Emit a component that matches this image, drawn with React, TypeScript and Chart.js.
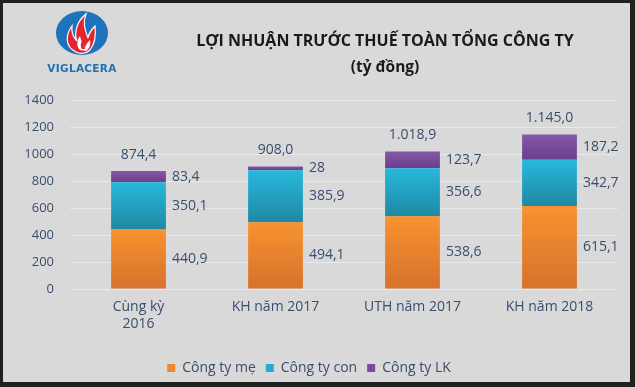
import React, { useEffect, useRef } from "react";
import { Chart, registerables } from "chart.js";

Chart.register(...registerables);

const categories: (string | string[])[] = [["Cùng kỳ", "2016"], "KH năm 2017", "UTH năm 2017", "KH năm 2018"];
const congTyMe = [440.9, 494.1, 538.6, 615.1];
const congTyCon = [350.1, 385.9, 356.6, 342.7];
const congTyLK = [83.4, 28, 123.7, 187.2];
const totals = [874.4, 908.0, 1018.9, 1145.0];
const seriesNames = ["Công ty mẹ", "Công ty con", "Công ty LK"];
const yTicks = [0, 200, 400, 600, 800, 1000, 1200, 1400];

const TEXT = "#3b4d6d";
const FONT = "'Open Sans', sans-serif";

const gradStops = [
  ["#f7932f", "#d7712d"],
  ["#27b9dd", "#1f88a2"],
  ["#8558a9", "#6a3e8d"],
];
const solid = ["#f08a2c", "#24aacd", "#7a4c9d"];

function fmt(v: number): string {
  const s = v.toFixed(1);
  const [i, d] = s.split(".");
  const ii = i.replace(/\B(?=(\d{3})+(?!\d))/g, ".");
  return ii + "," + d;
}

function fmtSeg(v: number): string {
  if (Number.isInteger(v)) return String(v);
  return fmt(v);
}

const labelPlugin = {
  id: "valueLabels",
  afterDatasetsDraw(chart: any) {
    const ctx = chart.ctx;
    ctx.save();
    ctx.fillStyle = TEXT;
    ctx.font = `14px ${FONT}`;
    ctx.textBaseline = "middle";
    chart.data.datasets.forEach((ds: any, di: number) => {
      const meta = chart.getDatasetMeta(di);
      meta.data.forEach((bar: any, i: number) => {
        const props = bar.getProps(["x", "y", "base", "width"], true);
        ctx.textAlign = "left";
        ctx.fillText(fmtSeg(ds.data[i]), props.x + props.width / 2 + 6, (props.y + props.base) / 2);
        if (di === chart.data.datasets.length - 1) {
          ctx.textAlign = "center";
          ctx.fillText(fmt(totals[i]), props.x, props.y - 16);
        }
      });
    });
    ctx.restore();
  },
};

function makeBg(di: number) {
  return (context: any) => {
    const chart = context.chart;
    const y = chart.scales && chart.scales.y;
    if (!y || context.type !== "data") return solid[di];
    const i = context.dataIndex;
    const all = [congTyMe, congTyCon, congTyLK];
    let base = 0;
    for (let k = 0; k < di; k++) base += all[k][i];
    const top = base + all[di][i];
    const y0 = y.getPixelForValue(top);
    const y1 = y.getPixelForValue(base);
    if (!isFinite(y0) || !isFinite(y1) || y0 === y1) return solid[di];
    const g = chart.ctx.createLinearGradient(0, y0, 0, y1);
    g.addColorStop(0, gradStops[di][0]);
    g.addColorStop(1, gradStops[di][1]);
    return g;
  };
}

function Logo() {
  return (
    <div style={{ position: "absolute", left: 40, top: 8, width: 84, height: 66 }}>
      <svg width="84" height="50" viewBox="0 0 84 50" style={{ position: "absolute", left: 0, top: 0 }}>
        <ellipse cx="42" cy="25" rx="26" ry="22" fill="#1f72bc" />
        <path d="M36 44 C24 38 26 26 32 18 C31 26 34 30 37 33 C34 26 36 14 46 6 C42 16 46 24 48 30 C49 24 52 21 55 18 C56 26 56 34 50 42 C46 46 40 46 36 44 Z" fill="#e3262d" stroke="#ffffff" strokeWidth="1.2" />
        <path d="M40 42 C36 38 37 32 40 28 C41 34 44 36 45 40 C46 36 48 34 50 32 C51 37 49 41 46 43 Z" fill="#ffffff" />
        <path d="M42 41 C40 38 41 35 42 33 C43 36 45 38 45 41 Z" fill="#e3262d" />
      </svg>
      <div style={{ position: "absolute", left: 0, top: 54, width: 84, textAlign: "center", fontFamily: "'DejaVu Sans', sans-serif", fontWeight: 700, fontSize: 10.5, color: "#1f6fb4", letterSpacing: 0.3, lineHeight: "12px" }}>
        VIGLACERA
      </div>
    </div>
  );
}

export default function App() {
  const canvasRef = useRef<HTMLCanvasElement | null>(null);

  useEffect(() => {
    if (!canvasRef.current) return;
    const chart = new Chart(canvasRef.current, {
      type: "bar",
      data: {
        labels: categories,
        datasets: [
          { label: seriesNames[0], data: congTyMe, backgroundColor: makeBg(0) },
          { label: seriesNames[1], data: congTyCon, backgroundColor: makeBg(1) },
          { label: seriesNames[2], data: congTyLK, backgroundColor: makeBg(2) },
        ],
      },
      options: {
        animation: false,
        responsive: true,
        maintainAspectRatio: false,
        layout: { padding: { top: 100, left: 0, right: 17, bottom: 2 } },
        datasets: { bar: { barPercentage: 0.4, categoryPercentage: 1 } },
        scales: {
          x: {
            stacked: true,
            grid: { display: false, drawTicks: false },
            border: { display: false },
            ticks: { color: TEXT, font: { family: FONT, size: 14 }, padding: 10, maxRotation: 0, autoSkip: false },
            afterFit: (s: any) => { s.height = 62; },
          },
          y: {
            stacked: true,
            min: 0,
            max: 1400,
            afterBuildTicks: (s: any) => { s.ticks = yTicks.map((v) => ({ value: v })); },
            grid: { color: "#e7e9ee", lineWidth: 1, drawTicks: false },
            border: { display: false },
            ticks: { color: TEXT, font: { family: FONT, size: 13 }, padding: 16, callback: (v: any) => String(v) },
            afterFit: (s: any) => { s.width = 70; },
          },
        },
        plugins: {
          legend: {
            position: "bottom",
            labels: {
              color: TEXT,
              font: { family: FONT, size: 14 },
              boxWidth: 8,
              boxHeight: 8,
              padding: 10,
              generateLabels: (chart: any) =>
                chart.data.datasets.map((ds: any, i: number) => ({
                  text: ds.label,
                  fillStyle: solid[i],
                  strokeStyle: solid[i],
                  lineWidth: 0,
                  fontColor: TEXT,
                  datasetIndex: i,
                  hidden: false,
                })),
            },
          },
          tooltip: { enabled: false },
        },
      },
      plugins: [labelPlugin],
    });
    return () => chart.destroy();
  }, []);

  return (
    <div style={{ position: "fixed", left: 0, top: 0, width: 635, height: 387, background: "#d9d9d9", overflow: "hidden" }}>
      <div style={{ position: "absolute", left: 0, top: 0, width: 635, height: 387 }}>
        <canvas ref={canvasRef} />
      </div>
      <Logo />
      <div style={{ position: "absolute", left: 140, width: 490, top: 29, textAlign: "center", fontFamily: FONT, fontWeight: 700, fontSize: 16, color: "#1a1a1a", lineHeight: "22px" }}>
        LỢI NHUẬN TRƯỚC THUẾ TOÀN TỔNG CÔNG TY
      </div>
      <div style={{ position: "absolute", left: 140, width: 490, top: 55, textAlign: "center", fontFamily: FONT, fontWeight: 700, fontSize: 15.5, color: "#1a1a1a", lineHeight: "22px" }}>
        (tỷ đồng)
      </div>
      <div style={{ position: "absolute", left: 0, top: 0, width: 635, height: 387, boxSizing: "border-box", borderStyle: "solid", borderColor: "#202020", borderWidth: "3px 5px 5px 3px", pointerEvents: "none" }} />
    </div>
  );
}
